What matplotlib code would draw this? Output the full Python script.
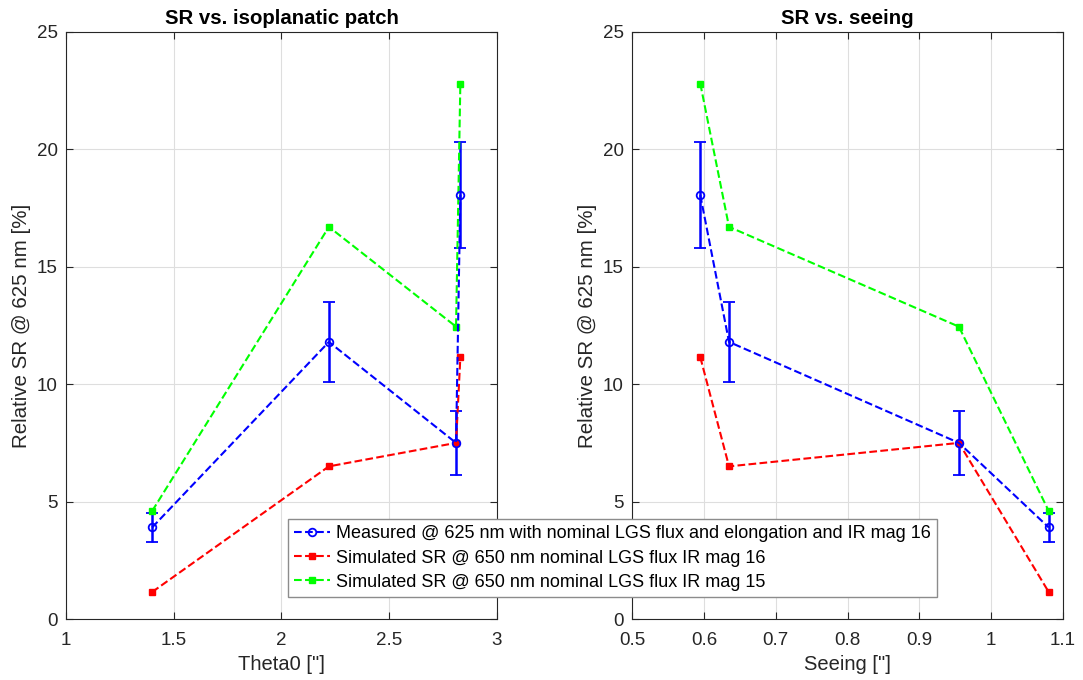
import numpy as np
import matplotlib.pyplot as plt
from matplotlib.ticker import FormatStrFormatter

plt.rcParams['font.family'] = ['Liberation Sans', 'DejaVu Sans']

# one entry per observation
theta0 = [1.40, 2.22, 2.81, 2.83]
seeing = [1.08, 0.635, 0.955, 0.595]
sr_meas = [3.9, 11.8, 7.5, 18.05]
sr_err = [0.6, 1.72, 1.37, 2.27]
sr_sim16 = [1.15, 6.5, 7.5, 11.15]
sr_sim15 = [4.6, 16.7, 12.45, 22.8]

labels = ['Measured @ 625 nm with nominal LGS flux and elongation and IR mag 16',
          'Simulated SR @ 650 nm nominal LGS flux IR mag 16',
          'Simulated SR @ 650 nm nominal LGS flux IR mag 15']

ink = '#262626'


def panel(ax, x, title, xlabel, xlim, xticks):
    x = np.array(x)
    idx = np.argsort(x)
    xs = x[idx]
    meas = np.array(sr_meas)[idx]
    err = np.array(sr_err)[idx]
    s16 = np.array(sr_sim16)[idx]
    s15 = np.array(sr_sim15)[idx]

    h1 = ax.errorbar(xs, meas, yerr=err, fmt='--o', color='b', mfc='none',
                     ms=5.5, mew=1.3, lw=1.5, capsize=4, elinewidth=1.8, capthick=1.5)
    h2, = ax.plot(xs, s16, '--s', color='r', ms=4.5, lw=1.5)
    h3, = ax.plot(xs, s15, '--s', color=(0, 1, 0), ms=4.5, lw=1.5)

    ax.set_xlim(xlim)
    ax.set_ylim(0, 25)
    ax.set_xticks(xticks)
    ax.set_yticks(np.arange(0, 26, 5))
    ax.xaxis.set_major_formatter(FormatStrFormatter('%g'))
    ax.grid(True, color='#dedede', lw=0.8)
    ax.set_axisbelow(True)
    ax.tick_params(direction='in', length=5, colors=ink, labelsize=13.5,
                   top=True, right=True)
    ax.tick_params(axis='x', pad=9)
    ax.tick_params(axis='y', pad=6)
    for s in ax.spines.values():
        s.set_color(ink)
        s.set_linewidth(0.8)
    ax.set_title(title, fontsize=14.7, fontweight='bold', color='k', pad=6)
    ax.set_xlabel(xlabel, fontsize=14.5, color=ink, labelpad=5)
    ax.set_ylabel('Relative SR @ 625 nm [%]', fontsize=14.8, color=ink)
    return h1[0], h2, h3


fig = plt.figure(figsize=(10.83, 6.8), dpi=100)
ax1 = fig.add_axes([0.0609, 0.0897, 0.398, 0.8633])
ax2 = fig.add_axes([0.5836, 0.0897, 0.398, 0.8633])

handles = panel(ax1, theta0, 'SR vs. isoplanatic patch', 'Theta0 ["]',
                (1, 3), np.arange(1, 3.01, 0.5))
panel(ax2, seeing, 'SR vs. seeing', 'Seeing ["]',
      (0.5, 1.1), np.arange(0.5, 1.101, 0.1))

leg = fig.legend(handles, labels, loc='center', bbox_to_anchor=(0.5656, 0.1794),
                 fontsize=13.0, frameon=True, fancybox=False, framealpha=1,
                 edgecolor='#8c8c8c', handlelength=2.0, handletextpad=0.3,
                 borderpad=0.35, labelspacing=0.4, borderaxespad=0)
leg.get_frame().set_linewidth(1.0)

fig.savefig('out.png', dpi=100)
